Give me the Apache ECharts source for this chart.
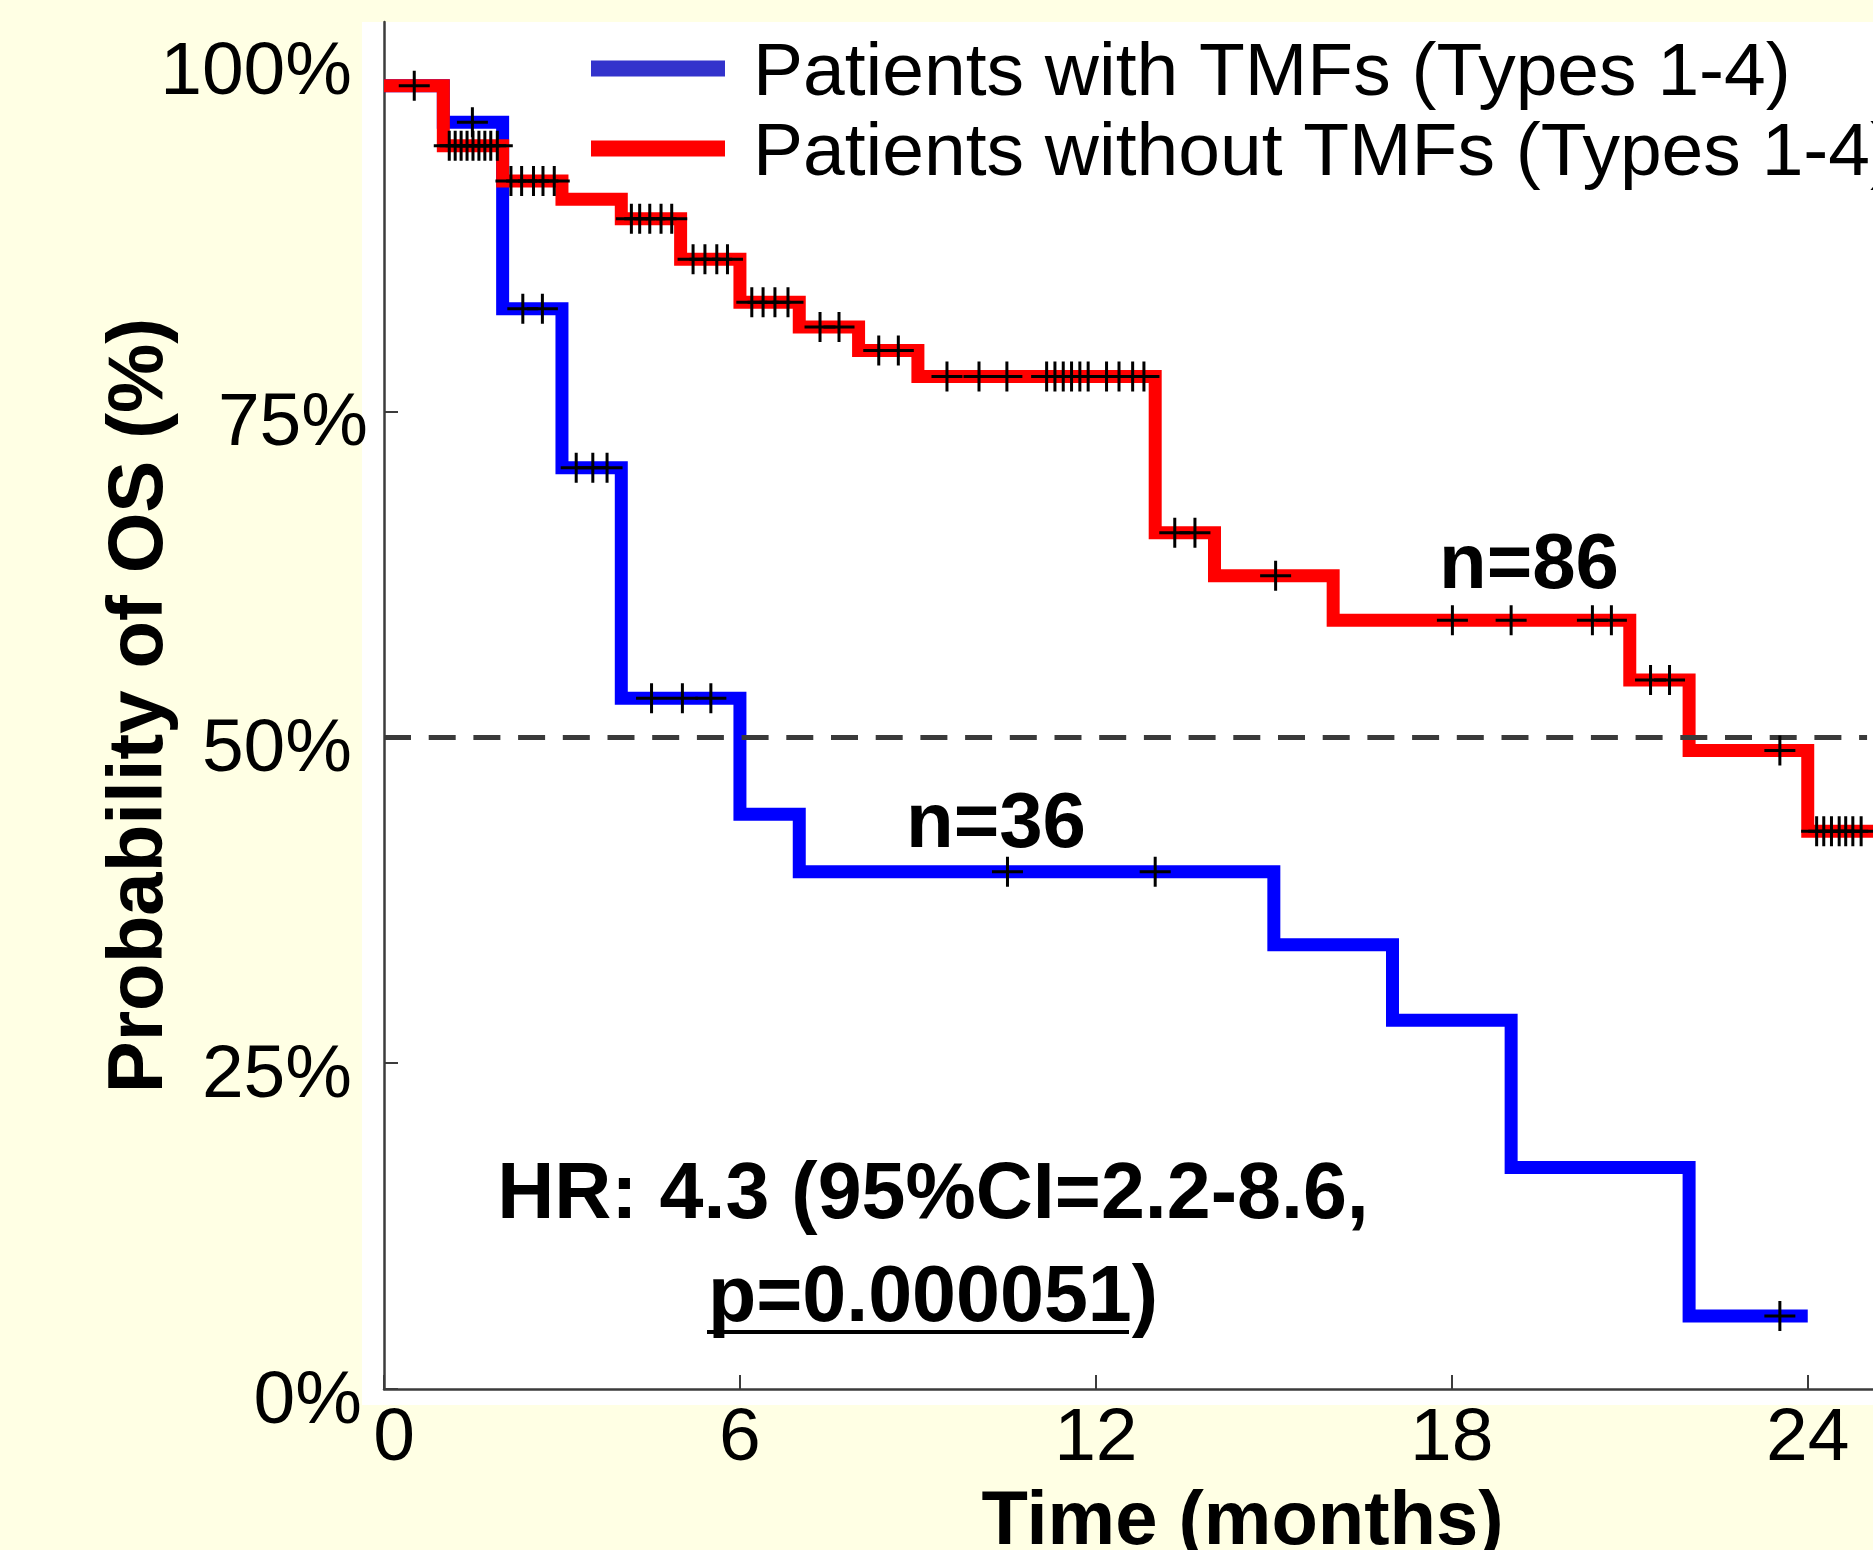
<!DOCTYPE html>
<html>
<head>
<meta charset="utf-8">
<script src="https://cdn.jsdelivr.net/npm/echarts@6/dist/echarts.min.js"></script>
<style>
html,body{margin:0;padding:0;background:#ffffe4;}
#c{width:1873px;height:1550px;}
</style>
</head>
<body>
<div id="c"></div>
<script>
// ---- data ----
const seriesNames = ['Patients with TMFs (Types 1-4)', 'Patients without TMFs (Types 1-4)'];
const xTicks = [0, 6, 12, 18, 24];
const yTicks = [0, 25, 50, 75, 100];

// Kaplan-Meier steps: time (months) and survival (%) after each step
const tmfTimes = [0, 1, 2, 3, 4, 6, 7, 15, 17, 19, 22, 24];
const tmfSurv  = [100, 97.2, 82.9, 70.7, 53.0, 44.1, 39.7, 34.1, 28.3, 17.0, 5.6, 5.6];
const tmfCensorTimes = [1.49, 2.34, 2.67, 3.24, 3.52, 3.76, 4.51, 5.03, 5.51, 10.51, 13.0, 23.53];
const tmfCensorSurv  = [97.2, 82.9, 82.9, 70.7, 70.7, 70.7, 53.0, 53.0, 53.0, 39.7, 39.7, 5.6];

const noTmfTimes = [0, 1, 2, 3, 4, 5, 6, 7, 8, 9, 13, 14, 16, 21, 22, 24, 25.1];
const noTmfSurv  = [100, 95.4, 92.7, 91.3, 89.8, 86.7, 83.4, 81.5, 79.7, 77.7, 65.7, 62.4, 59.0, 54.4, 49.0, 42.8, 42.8];
const noTmfCensorTimes = [0.51,
  1.10, 1.20, 1.30, 1.40, 1.50, 1.60, 1.70, 1.80, 1.91,
  2.14, 2.32, 2.52, 2.68, 2.87,
  4.17, 4.31, 4.48, 4.67, 4.85,
  5.21, 5.41, 5.61, 5.79,
  6.20, 6.39, 6.59, 6.81,
  7.35, 7.67,
  8.34, 8.67,
  9.49, 10.03, 10.50, 11.17, 11.31, 11.45, 11.59, 11.73, 11.87, 12.18, 12.39, 12.62, 12.81,
  13.33, 13.67,
  15.03,
  18.01, 19.00, 20.37, 20.69,
  21.35, 21.67,
  23.53,
  24.15, 24.27, 24.40, 24.53, 24.64, 24.76, 24.90];
const noTmfCensorSurv = [100,
  95.4, 95.4, 95.4, 95.4, 95.4, 95.4, 95.4, 95.4, 95.4,
  92.7, 92.7, 92.7, 92.7, 92.7,
  89.8, 89.8, 89.8, 89.8, 89.8,
  86.7, 86.7, 86.7, 86.7,
  83.4, 83.4, 83.4, 83.4,
  81.5, 81.5,
  79.7, 79.7,
  77.7, 77.7, 77.7, 77.7, 77.7, 77.7, 77.7, 77.7, 77.7, 77.7, 77.7, 77.7, 77.7,
  65.7, 65.7,
  62.4,
  59.0, 59.0, 59.0, 59.0,
  54.4, 54.4,
  49.0,
  42.8, 42.8, 42.8, 42.8, 42.8, 42.8, 42.8];

const medianLevel = 50;
const medianRange = [0, 25];
const xMax = 25.1;
const yMax = 104.9;

// ---- build chart ----
const zip = (a, b) => a.map((v, i) => [v, b[i]]);
const FONT = '"Liberation Sans", Arial, sans-serif';
const plus = 'path://M14,0h3v30h-3zM0,13.5h31v3h-31z';
// legend swatch: a 134x16 bar in the upper part of a 134x28 box (text sits a bit lower than the bar)
const legendIcon = 'path://M0,0h134v16h-134zM0,27.95h0.05v0.05h-0.05z';
const axisColor = '#3c3c3c';
const yLabelBase = {fontSize: 75, lineHeight: 75, color: '#000', fontFamily: FONT};
const yLabelStyle = pad => Object.assign({}, yLabelBase, {padding: [0, pad, 0, 0]});

const chart = echarts.init(document.getElementById('c'), null, {renderer: 'canvas'});
chart.setOption({
  backgroundColor: '#ffffe4',
  animation: false,
  textStyle: {fontFamily: FONT},
  grid: {left: 384, right: 0, top: 22, bottom: 161, containLabel: false, outerBoundsMode: 'none'},
  legend: {
    orient: 'vertical', left: 591, top: 37, padding: 0, itemGap: 5,
    itemWidth: 134, itemHeight: 28, icon: legendIcon, selectedMode: false,
    textStyle: {fontSize: 75, color: '#000', lineHeight: 74, padding: [0, 0, 0, 23], fontFamily: FONT},
    data: [
      {name: seriesNames[0], itemStyle: {color: '#3333cc'}},
      {name: seriesNames[1], itemStyle: {color: '#ff0000'}}
    ]
  },
  xAxis: {
    type: 'value', min: 0, max: xMax,
    axisLine: {show: true, lineStyle: {color: axisColor, width: 2.5}},
    axisTick: {show: true, inside: true, length: 14, customValues: xTicks, lineStyle: {color: axisColor, width: 2}},
    axisLabel: {
      customValues: xTicks, fontSize: 75, color: '#000', margin: 13, fontFamily: FONT,
      formatter: v => v === 0 ? '{z|0}' : String(v),
      rich: {z: {fontSize: 75, color: '#000', fontFamily: FONT, padding: [0, 0, 0, 20]}}
    },
    splitLine: {show: false},
    name: 'Time (months)', nameLocation: 'middle', nameGap: 96, nameMoveOverlap: false,
    nameTextStyle: {fontSize: 76, fontWeight: 'bold', color: '#000', fontFamily: FONT, padding: [0, 0, 0, 228]}
  },
  yAxis: {
    type: 'value', min: 0, max: yMax,
    axisLine: {show: true, lineStyle: {color: axisColor, width: 2.5}},
    axisTick: {show: true, inside: true, length: 14, customValues: yTicks, lineStyle: {color: axisColor, width: 2}},
    axisLabel: {
      customValues: yTicks, fontSize: 75, lineHeight: 75, color: '#000', margin: 16, fontFamily: FONT,
      formatter: v => {
        if (v === 100) return '{p16|100%}\n{s| }';
        if (v === 75) return '{s| }\n{p0|75%}';
        if (v === 0) return '{s| }\n{p6|0%}';
        return '{s| }\n{p16|' + v + '%}';
      },
      rich: {s: {fontSize: 1, lineHeight: 26}, p0: yLabelStyle(0), p6: yLabelStyle(6), p16: yLabelStyle(16)}
    },
    splitLine: {show: false},
    name: 'Probability of OS (%)', nameLocation: 'middle', nameGap: 205, nameMoveOverlap: false,
    nameTextStyle: {fontSize: 78, fontWeight: 'bold', color: '#000', fontFamily: FONT}
  },
  graphic: [
    {type: 'rect', z: -100, silent: true, shape: {x: 362, y: 22, width: 1511, height: 1383}, style: {fill: '#ffffff'}},
    {type: 'text', z: 100, x: 1529, y: 566, style: {text: 'n=86', font: 'bold 78px ' + FONT, fill: '#000', align: 'center', verticalAlign: 'middle'}},
    {type: 'text', z: 100, x: 996, y: 825, style: {text: 'n=36', font: 'bold 78px ' + FONT, fill: '#000', align: 'center', verticalAlign: 'middle'}},
    {type: 'text', z: 100, x: 933, y: 1196, style: {text: 'HR: 4.3 (95%CI=2.2-8.6,', font: 'bold 79px ' + FONT, fill: '#000', align: 'center', verticalAlign: 'middle'}},
    {type: 'text', z: 100, x: 933, y: 1299, style: {text: 'p=0.000051)', font: 'bold 79px ' + FONT, fill: '#000', align: 'center', verticalAlign: 'middle'}},
    {type: 'line', z: 100, shape: {x1: 707, y1: 1332, x2: 1129, y2: 1332}, style: {stroke: '#000', lineWidth: 4}}
  ],
  series: [
    {
      name: seriesNames[0], type: 'line', step: 'end', data: zip(tmfTimes, tmfSurv),
      symbol: 'none', z: 2, silent: true,
      itemStyle: {color: '#0000ff'},
      lineStyle: {color: '#0000ff', width: 13, join: 'miter', cap: 'butt'}
    },
    {
      name: seriesNames[1], type: 'line', step: 'end', data: zip(noTmfTimes, noTmfSurv),
      symbol: 'none', z: 3, silent: true,
      itemStyle: {color: '#ff0000'},
      lineStyle: {color: '#ff0000', width: 13, join: 'miter', cap: 'butt'}
    },
    {
      name: 'median', type: 'line', data: medianRange.map(t => [t, medianLevel]),
      symbol: 'none', z: 4, silent: true,
      lineStyle: {color: '#3a3a3a', width: 5, type: [27, 17.7], cap: 'butt'}
    },
    {
      name: 'TMF censored', type: 'scatter', data: zip(tmfCensorTimes, tmfCensorSurv),
      symbol: plus, symbolSize: [31, 30], z: 5, silent: true,
      itemStyle: {color: '#000', opacity: 1}
    },
    {
      name: 'no TMF censored', type: 'scatter', data: zip(noTmfCensorTimes, noTmfCensorSurv),
      symbol: plus, symbolSize: [31, 30], z: 5, silent: true,
      itemStyle: {color: '#000', opacity: 1}
    }
  ]
});
</script>
</body>
</html>
